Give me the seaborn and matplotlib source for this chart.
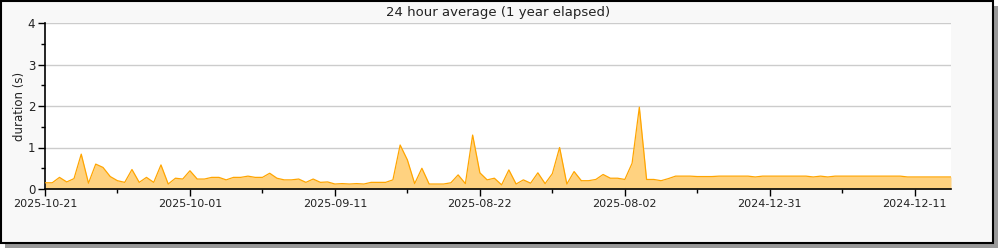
import matplotlib
matplotlib.use("Agg")
import matplotlib.pyplot as plt
import seaborn as sns
import numpy as np
import pandas as pd
from matplotlib.patches import Rectangle
from matplotlib.ticker import FixedLocator, MultipleLocator

title = "24 hour average (1 year elapsed)"
ylabel = "duration (s)"
tick_labels = ["2025-10-21", "2025-10-01", "2025-09-11", "2025-08-22",
               "2025-08-02", "2024-12-31", "2024-12-11"]

durations = [
    0.15, 0.15, 0.28, 0.17, 0.25, 0.84, 0.14, 0.60, 0.52, 0.30,
    0.20, 0.16, 0.47, 0.16, 0.28, 0.16, 0.58, 0.12, 0.26, 0.24,
    0.44, 0.24, 0.24, 0.28, 0.28, 0.22, 0.28, 0.28, 0.31, 0.28,
    0.28, 0.38, 0.26, 0.22, 0.22, 0.24, 0.16, 0.24, 0.16, 0.17,
    0.12, 0.13, 0.12, 0.13, 0.12, 0.16, 0.16, 0.16, 0.22, 1.06,
    0.70, 0.13, 0.50, 0.12, 0.12, 0.12, 0.15, 0.34, 0.13, 1.30,
    0.39, 0.22, 0.26, 0.10, 0.46, 0.12, 0.22, 0.14, 0.39, 0.13,
    0.37, 1.00, 0.12, 0.42, 0.20, 0.20, 0.23, 0.35, 0.26, 0.26,
    0.23, 0.62, 1.97, 0.23, 0.23, 0.20, 0.25, 0.31, 0.31, 0.31,
    0.30, 0.30, 0.30, 0.31, 0.31, 0.31, 0.31, 0.31, 0.29, 0.31,
    0.31, 0.31, 0.31, 0.31, 0.31, 0.31, 0.29, 0.31, 0.29, 0.31,
    0.31, 0.31, 0.31, 0.31, 0.31, 0.31, 0.31, 0.31, 0.31, 0.29,
    0.29, 0.29, 0.29, 0.29, 0.29, 0.29,
]

df = pd.DataFrame({"idx": np.arange(len(durations)), "duration": durations})

sns.set_style("white")
plt.rcParams["font.family"] = ["DejaVu Sans"]

fig = plt.figure(figsize=(10, 2.5), dpi=100, facecolor="white")

# background frame with shadow
fig.patches.append(Rectangle((0.005, 0.008), 0.993, 0.968, transform=fig.transFigure,
                             facecolor="#999999", edgecolor="none", zorder=-3))
fig.patches.append(Rectangle((0.0008, 0.028), 0.992, 0.968, transform=fig.transFigure,
                             facecolor="#f8f8f8", edgecolor="black", linewidth=1.5, zorder=-2))

ax = fig.add_axes([0.045, 0.244, 0.906, 0.664])
ax.set_facecolor("white")

ax.fill_between(df["idx"], 0, df["duration"], color="#ffd280", linewidth=0, zorder=2)
sns.lineplot(data=df, x="idx", y="duration", ax=ax, color="#ffa500", linewidth=0.9, zorder=3)

ax.set_xlim(0, len(durations) - 1)
ax.set_ylim(0, 4)

ax.xaxis.set_major_locator(FixedLocator(np.arange(0, 121, 20)))
ax.set_xticklabels(tick_labels)
ax.xaxis.set_minor_locator(FixedLocator(np.arange(10, 121, 20)))
ax.yaxis.set_major_locator(MultipleLocator(1))
ax.yaxis.set_minor_locator(MultipleLocator(0.5))

ax.tick_params(axis="both", which="major", direction="out", length=5, width=1,
               color="black", labelsize=8, labelcolor="#222222", pad=2)
ax.tick_params(axis="y", which="major", labelsize=8.5)
ax.tick_params(axis="both", which="minor", direction="out", length=3, width=1, color="black")
ax.tick_params(axis="x", which="both", bottom=True)
ax.tick_params(axis="y", which="both", left=True)

ax.grid(axis="y", which="major", color="#cccccc", linewidth=1, linestyle="-", zorder=1)
ax.set_axisbelow(True)

for s in ["top", "right"]:
    ax.spines[s].set_visible(False)
for s in ["left", "bottom"]:
    ax.spines[s].set_color("black")
    ax.spines[s].set_linewidth(1.2)

ax.set_xlabel("")
ax.set_ylabel(ylabel, fontsize=8.5, color="#222222", labelpad=1)
ax.set_title(title, fontsize=9.5, color="#222222", pad=5)

fig.savefig("out.png", dpi=100, facecolor="white")
